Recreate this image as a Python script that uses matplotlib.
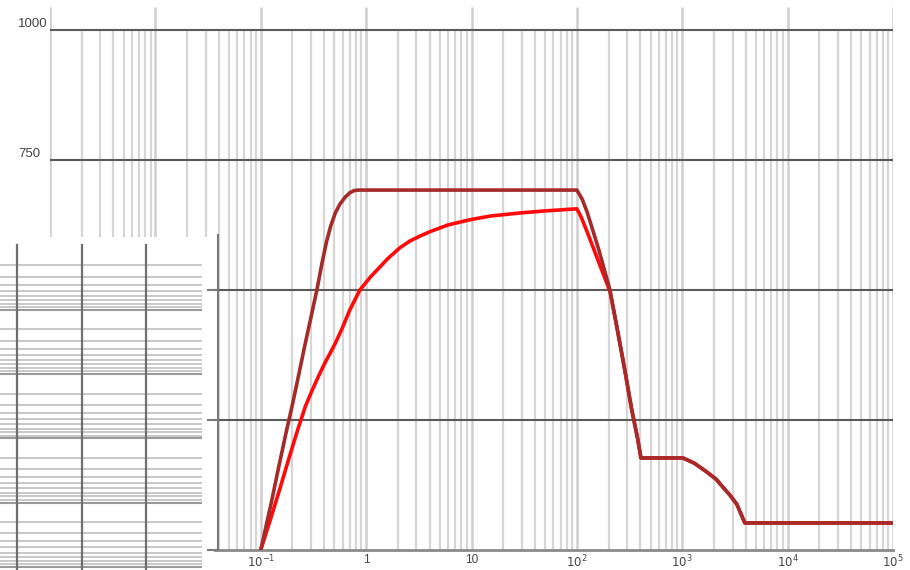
import numpy as np
import matplotlib
matplotlib.use("Agg")
import matplotlib.pyplot as plt
from matplotlib.ticker import NullFormatter, FixedLocator

plt.rcParams['font.family'] = ['Liberation Sans', 'DejaVu Sans']

# ---- data ----
dark_x = [0.1, 0.125, 0.15, 0.175, 0.2, 0.23, 0.26, 0.30, 0.341, 0.38, 0.42, 0.46,
          0.51, 0.564, 0.63, 0.702, 0.77, 0.835, 100, 112, 125, 140, 160, 180,
          206, 240, 285, 330, 379, 405, 1014, 1300, 1710, 2100, 2427, 2850, 3296,
          3926, 1e5]
dark_y = [0, 88, 165, 228, 280, 338, 390, 448, 500, 550, 592, 622,
          648, 665, 678, 687, 691, 692, 692, 675, 650, 618, 580, 543,
          500, 428, 346, 272, 212, 177, 177, 167, 150, 136, 121, 105, 88,
          52, 52]

red_x = [0.1, 0.125, 0.152, 0.185, 0.225, 0.265, 0.306, 0.355, 0.407, 0.46, 0.506,
         0.589, 0.702, 0.873, 1.1, 1.35, 1.6, 2.09, 2.6, 3.2, 4.03, 6.0, 9.66, 15,
         28.8, 50, 100, 110, 125, 145, 165, 185, 206, 240, 285, 330, 379, 405,
         1014, 1300, 1710, 2100, 2427, 2850, 3296, 3926, 1e5]
red_y = [0, 62, 118, 176, 232, 276, 306, 335, 360, 380, 396,
         425, 462, 500, 525, 544, 560, 581, 594, 603, 612, 625, 635, 642,
         648, 652, 656, 640, 612, 578, 548, 522, 497, 428, 346, 272, 212, 177,
         177, 167, 150, 136, 121, 105, 88, 52, 52]

y_ticks = [0, 250, 500, 750, 1000]
y_labels = ['0', '250', '500', '750', '1000']
x_decades = [1e-3, 1e-2, 1e-1, 1, 10, 1e2, 1e3, 1e4, 1e5]
x_labels = ['', '', r'$10^{-1}$', '1', '10', r'$10^{2}$',
            r'$10^{3}$', r'$10^{4}$', r'$10^{5}$']

inset_decades = [1, 10, 100, 1000, 1e4]
inset_majors = [10, 100, 1000, 1e4, 1e5]
inset_vlines = [1, 10, 100]

W, H = 910, 570
fig = plt.figure(figsize=(W / 100, H / 100), dpi=100)

def rect(x0, x1, ytop, ybot):
    return [x0 / W, (H - ybot) / H, (x1 - x0) / W, (ybot - ytop) / H]

# ---- main axes ----
ax = fig.add_axes(rect(50, 893, 7, 550))
ax.set_xscale('log')
ax.set_xlim(1e-3, 1e5)
ax.set_ylim(0, 1044)
for s in ['top', 'right', 'left']:
    ax.spines[s].set_visible(False)
ax.spines['bottom'].set_color('#8a8a8a')
ax.spines['bottom'].set_linewidth(2)

minor = [m * d for d in x_decades[:-1] for m in range(2, 10)]
ax.vlines(minor, 0, 1000, color='#d6d6d6', lw=1.6, zorder=1)
ax.vlines(x_decades, 0, 1044, color='#cfcfcf', lw=1.8, zorder=1)
for yv in y_ticks[1:]:
    ax.axhline(yv, color='#5a5a5a', lw=1.5, zorder=2)

ax.plot(red_x, red_y, color='#ff0a0a', lw=2.6, zorder=3,
        solid_joinstyle='round', solid_capstyle='round')
ax.plot(dark_x, dark_y, color='#a52a2a', lw=2.6, zorder=4,
        solid_joinstyle='round', solid_capstyle='round')

ax.xaxis.set_major_locator(FixedLocator(x_decades))
ax.set_xticklabels(x_labels)
ax.xaxis.set_minor_formatter(NullFormatter())
ax.tick_params(axis='x', which='both', length=0, pad=3, labelsize=8.5, labelcolor='#444444')

ax.set_yticks(y_ticks)
ax.set_yticklabels(y_labels)
ax.tick_params(axis='y', length=0, pad=23, labelsize=9.5, labelcolor='#444444')
for lbl in ax.get_yticklabels():
    lbl.set_ha('left')
    lbl.set_va('bottom')

# ---- inset (grid panel in lower left) ----
ins = fig.add_axes(rect(0, 214, 237, 570))
ins.set_facecolor('white')
ins.set_xscale('log')
ins.set_yscale('log')
ins.set_xlim(10 ** -0.264, 10 ** 3.054)
ins.set_ylim(10 ** 5.05, 10 ** -0.14)
for s in ins.spines.values():
    s.set_visible(False)
ins.set_xticks([])
ins.set_yticks([])
ins.minorticks_off()
xl = ins.get_xlim()[0]
xr = 10 ** 2.868
ins_minor = [m * d for d in inset_decades for m in range(2, 10)]
ins.hlines(ins_minor, xl, xr, color='#c4c4c4', lw=1.3)
ins.hlines(inset_majors, xl, xr, color='#9a9a9a', lw=1.5)
for xv in inset_vlines:
    ins.axvline(xv, ymin=0, ymax=0.976, color='#6e6e6e', lw=1.6)

# ---- short y axis spine drawn over the inset ----
sp = fig.add_axes(rect(218, 230, 235, 550))
sp.set_ylim(0, (550 - 235) * 1000 / 520)
sp.patch.set_alpha(0)
for s in ['top', 'right', 'bottom']:
    sp.spines[s].set_visible(False)
sp.spines['left'].set_color('#7a7a7a')
sp.spines['left'].set_linewidth(1.5)
sp.set_xticks([])
sp.set_yticks([0, 250, 500])
sp.set_yticklabels([])
sp.tick_params(axis='y', length=8, width=1.5, color='#7a7a7a', direction='out')

fig.savefig('out.png', dpi=100, facecolor='white')
